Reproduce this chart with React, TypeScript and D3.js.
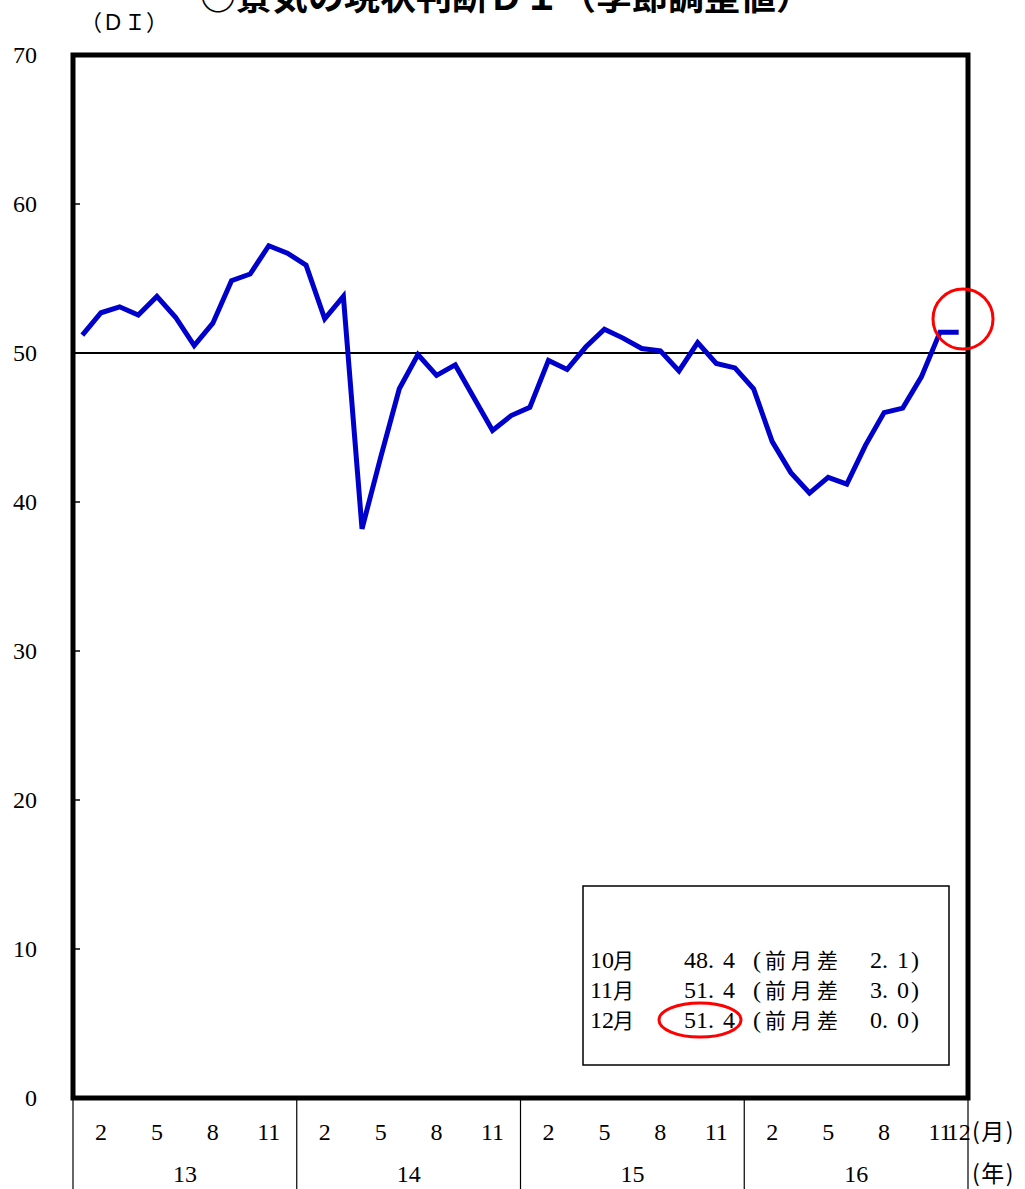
import React from "react";
import * as d3 from "d3";

const title = "○景気の現状判断ＤＩ（季節調整値）";
const yUnit = "（ＤＩ）";
const years = ["13", "14", "15", "16"];
const monthTickLabels = ["2", "5", "8", "11"];
const yTicks = [0, 10, 20, 30, 40, 50, 60, 70];

const di2013 = [51.2, 52.7, 53.1, 52.55, 53.8, 52.4, 50.5, 52.0, 54.85, 55.3, 57.2, 56.7];
const di2014 = [55.9, 52.3, 53.8, 38.2, 43.0, 47.6, 49.9, 48.5, 49.2, 47.0, 44.8, 45.8];
const di2015 = [46.35, 49.5, 48.9, 50.4, 51.6, 51.0, 50.3, 50.15, 48.8, 50.7, 49.3, 49.0];
const di2016 = [47.6, 44.05, 41.97, 40.6, 41.65, 41.2, 43.8, 46.0, 46.3, 48.4, 51.4, 51.4];
const series = [...di2013, ...di2014, ...di2015, ...di2016];

const legendMonths = ["10", "11", "12"];
const legendValues = ["48.4", "51.4", "51.4"];
const legendDiffs = ["2.1", "3.0", "0.0"];

const SERIF = "'Liberation Serif', 'DejaVu Serif', serif";
const CJK = "'Noto Sans CJK JP', 'Noto Sans', sans-serif";

export default function App() {
  const left = 73, right = 968, top = 55, bottom = 1098;
  const n = series.length;
  const x = d3.scaleLinear().domain([0, n]).range([left, right]);
  const xc = (i: number) => x(i + 0.5);
  const y = d3.scaleLinear().domain([0, 70]).range([bottom, top]);
  const line = d3
    .line<number>()
    .x((_, i) => xc(i))
    .y((d) => y(d));

  const lastIdx = n - 1;

  return (
    <svg
      width={1025}
      height={1189}
      style={{ position: "absolute", left: 0, top: 0, background: "#fff" }}
    >
      {/* title */}
      <text x={506} y={10} textAnchor="middle" fontFamily={CJK} fontWeight="bold" fontSize={36} fill="#000">
        {title}
      </text>
      <text x={124} y={30} textAnchor="middle" fontFamily={CJK} fontSize={22} fill="#000">
        {yUnit}
      </text>

      {/* 50 reference line */}
      <line x1={left} x2={right} y1={y(50)} y2={y(50)} stroke="#000" strokeWidth={2} />

      {/* y ticks */}
      {yTicks.map((t) => (
        <g key={t}>
          <line x1={left} x2={left + 7} y1={y(t)} y2={y(t)} stroke="#000" strokeWidth={1.5} />
          <text x={37} y={y(t) + 8} textAnchor="end" fontFamily={SERIF} fontSize={24} fill="#000">
            {t}
          </text>
        </g>
      ))}

      {/* series */}
      <path d={line(series) || ""} fill="none" stroke="#0000CC" strokeWidth={5} strokeLinejoin="miter" />

      {/* frame */}
      <rect x={left} y={top} width={right - left} height={bottom - top} fill="none" stroke="#000" strokeWidth={5} />

      {/* x axis: year separators */}
      {years.map((_, k) => (
        <line key={"sep" + k} x1={x(k * 12)} x2={x(k * 12)} y1={bottom} y2={1189} stroke="#000" strokeWidth={1.2} />
      ))}
      <line x1={right} x2={right} y1={bottom} y2={1189} stroke="#000" strokeWidth={1.2} />

      {/* month labels */}
      {years.map((yr, k) =>
        monthTickLabels.map((m) => {
          const idx = k * 12 + (+m - 1);
          return (
            <text key={yr + m} x={xc(idx)} y={1140} textAnchor="middle" fontFamily={SERIF} fontSize={24} fill="#000">
              {m}
            </text>
          );
        })
      )}
      <text x={xc(lastIdx)} y={1140} textAnchor="middle" fontFamily={SERIF} fontSize={24} fill="#000">
        12
      </text>
      <text x={972} y={1140} fontFamily={CJK} fontSize={23} letterSpacing={1.5} fill="#000">(月)</text>

      {/* year labels */}
      {years.map((yr, k) => (
        <text key={"y" + yr} x={x(k * 12 + 6)} y={1182} textAnchor="middle" fontFamily={SERIF} fontSize={24} fill="#000">
          {yr}
        </text>
      ))}
      <text x={972} y={1182} fontFamily={CJK} fontSize={23} letterSpacing={1.5} fill="#000">(年)</text>

      {/* legend box */}
      <rect x={583} y={886} width={366} height={179} fill="#fff" stroke="#000" strokeWidth={1.5} />
      {legendMonths.map((m, i) => {
        const by = 968 + i * 30;
        const [vi, vd] = legendValues[i].split(".");
        const [di, dd] = legendDiffs[i].split(".");
        return (
          <g key={m} fill="#000">
            <text x={590} y={by} fontFamily={SERIF} fontSize={24}>{m}</text>
            <text x={613} y={by} fontFamily={CJK} fontSize={21}>月</text>
            <text x={684} y={by} fontFamily={SERIF} fontSize={24}>{vi + "."}</text>
            <text x={723} y={by} fontFamily={SERIF} fontSize={24}>{vd}</text>
            <text x={753} y={by} fontFamily={SERIF} fontSize={24}>(</text>
            <text x={765} y={by} fontFamily={CJK} fontSize={21} letterSpacing={5}>
              前月差
            </text>
            <text x={870} y={by} fontFamily={SERIF} fontSize={24}>{di + "."}</text>
            <text x={897} y={by} fontFamily={SERIF} fontSize={24}>{dd}</text>
            <text x={911} y={by} fontFamily={SERIF} fontSize={24}>)</text>
          </g>
        );
      })}

      {/* red highlight marks */}
      <ellipse cx={700} cy={1020} rx={41} ry={17} fill="none" stroke="#FF0000" strokeWidth={3} />
      <circle cx={963} cy={319} r={30} fill="none" stroke="#FF0000" strokeWidth={3} />
    </svg>
  );
}
